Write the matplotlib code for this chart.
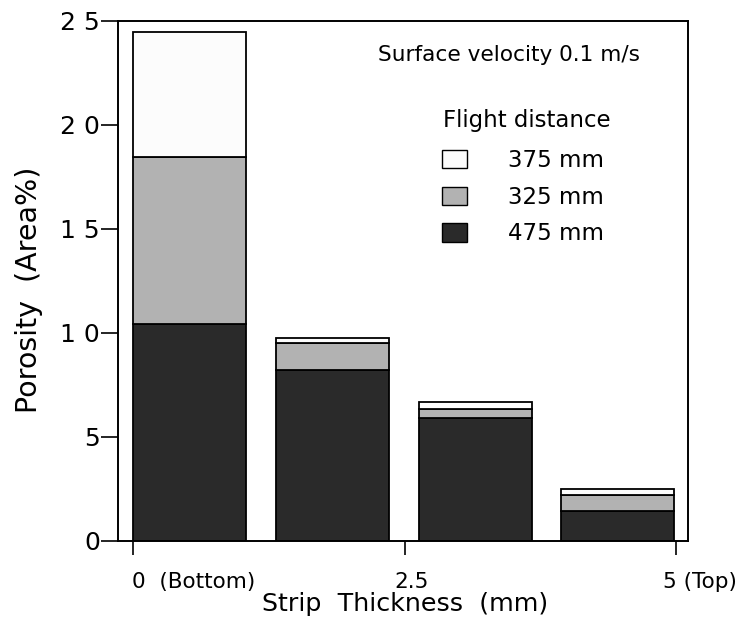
import matplotlib.pyplot as plt
from matplotlib.patches import Patch
import numpy as np

plt.rcParams['font.family'] = ['DejaVu Sans']

# porosity per layer, stacked by flight distance
bar_pos = [0.52, 1.84, 3.15, 4.46]
p475 = [10.45, 8.2, 5.9, 1.45]
p325 = [8.0, 1.3, 0.45, 0.75]
p375 = [6.0, 0.25, 0.35, 0.28]
series_labels = ['375 mm', '325 mm', '475 mm']

x_ticks = [0, 2.5, 5]
x_tick_labels = ['0  (Bottom)', '2.5', '5 (Top)']
y_ticks = [0, 5, 10, 15, 20, 25]
y_tick_labels = ['0', '5', '1 0', '1 5', '2 0', '2 5']

DARK = '#2a2a2a'
GRAY = '#b2b2b2'
LIGHT = '#fcfcfc'

fig = plt.figure(figsize=(7.39, 6.29), dpi=100)
ax = fig.add_axes([118 / 739, 1 - 541 / 629, 570 / 739, 520 / 629])

w = 1.04
bot2 = np.array(p475)
bot3 = bot2 + np.array(p325)
ax.bar(bar_pos, p475, width=w, color=DARK, edgecolor='black', linewidth=1.3)
ax.bar(bar_pos, p325, width=w, bottom=bot2, color=GRAY, edgecolor='black', linewidth=1.3)
ax.bar(bar_pos, p375, width=w, bottom=bot3, color=LIGHT, edgecolor='black', linewidth=1.3)

ax.set_xlim(-0.138, 5.11)
ax.set_ylim(0, 25)
for s in ax.spines.values():
    s.set_linewidth(1.4)

ax.set_yticks(y_ticks)
ax.set_yticklabels(y_tick_labels, fontsize=18)
ax.tick_params(axis='y', direction='out', length=12, width=1.2, pad=1)

ax.set_xticks(x_ticks)
ax.set_xticklabels([])
ax.tick_params(axis='x', direction='out', length=10, width=1.2)

# custom placement for the thickness labels
offsets = [(-1, 'left'), (5, 'center'), (-9.5, 'left')]
for xv, lab, (dx, ha) in zip(x_ticks, x_tick_labels, offsets):
    ax.annotate(lab, xy=(xv, 0), xycoords=('data', 'axes fraction'),
                xytext=(dx, -29.5), textcoords='offset points',
                ha=ha, va='center', fontsize=15.5)

fig.text(405 / 739, 1 - 604 / 629, 'Strip  Thickness  (mm)', ha='center', va='center', fontsize=18.3)
fig.text(29 / 739, 1 - 290 / 629, 'Porosity  (Area%)', ha='center', va='center',
         rotation=90, fontsize=20.5)

fig.text(378 / 739, 1 - 55 / 629, 'Surface velocity 0.1 m/s', ha='left', va='center', fontsize=15.6)

# legend: heading as separate text so its gap to the entries can be set
fig.text(443 / 739, 1 - 120 / 629, 'Flight distance', ha='left', va='center', fontsize=16.5)
handles = [Patch(facecolor=LIGHT, edgecolor='black', linewidth=1.0),
           Patch(facecolor=GRAY, edgecolor='black', linewidth=1.0),
           Patch(facecolor=DARK, edgecolor='black', linewidth=1.0)]
leg = ax.legend(handles=handles, labels=series_labels,
                loc='upper left', bbox_to_anchor=(442 / 739, 1 - 149 / 629),
                bbox_transform=fig.transFigure, frameon=False, fontsize=16.5,
                handlelength=1.09, handleheight=0.87,
                handletextpad=1.79, labelspacing=0.6, borderpad=0,
                borderaxespad=0)

fig.savefig('out.png', dpi=100)
